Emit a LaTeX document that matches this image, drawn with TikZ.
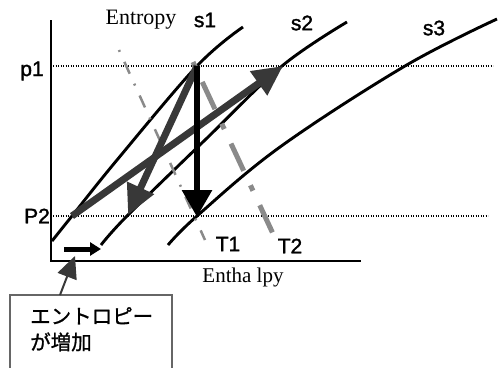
\documentclass[tikz,border=0pt]{standalone}
\usepackage{fontspec}
\setmainfont{Liberation Serif}
\newfontfamily\lsans[FakeBold=1.5]{Liberation Sans}
\newfontfamily\jp[FakeBold=1]{Noto Sans CJK JP}
\usetikzlibrary{arrows.meta}
\definecolor{dgray}{HTML}{383838}
\definecolor{mgray}{HTML}{8A8A8A}
\definecolor{bgray}{HTML}{666666}
\tikzset{
  axis/.style={line width=2pt, black},
  curve/.style={line width=2.9pt, black},
  dotline/.style={line width=1.3pt, black, dash pattern=on 1.3pt off 1.2pt},
  cyc/.style={line width=7pt, dgray, -{Triangle[length=30pt,width=28pt]}},
  down/.style={line width=6pt, black, -{Triangle[length=27pt,width=29pt]}},
  tone/.style={line width=2.5pt, mgray, dash pattern=on 2pt off 11pt on 13pt off 11pt},
  ttwo/.style={line width=5pt, mgray, dash pattern=on 6pt off 16pt on 30pt off 16pt},
  lbl/.style={font=\lsans\fontsize{21}{23}\selectfont, inner sep=0pt},
  serif/.style={font=\fontsize{22}{24}\selectfont, inner sep=0pt},
}
\begin{document}
\begin{tikzpicture}[x=1pt,y=-1pt]
\useasboundingbox (0,0) rectangle (498,367);
% axes
\coordinate (axtop) at (51,20);
\coordinate (axorig) at (51,261);
\coordinate (axright) at (361,261);
\draw[axis] (axtop) -- (axorig) -- (axright);
% pressure lines
\coordinate (p1l) at (53,66); \coordinate (p1r) at (493,66);
\coordinate (p2l) at (53,216); \coordinate (p2r) at (488,216);
\draw[dotline] (p1l) -- (p1r);
\draw[dotline] (p2l) -- (p2r);
% curves
\draw[curve] plot[smooth, tension=0.6] coordinates {(52,241) (72,216) (117,160) (197,66) (243,27)};
\draw[curve] plot[smooth, tension=0.6] coordinates {(101,245) (127,216) (205,140) (282,66) (347,22)};
\draw[curve] plot[smooth, tension=0.6] coordinates {(168,245) (197,216) (280,147) (405,66) (497,19)};
% temperature lines
\coordinate (t1a) at (119,50); \coordinate (t1b) at (205,240);
\coordinate (t2a) at (193,62); \coordinate (t2b) at (275,238);
\draw[tone] (t1a) -- (t1b);
\draw[ttwo] (t2a) -- (t2b);
% cycle points
\coordinate (A) at (72,216);
\coordinate (B) at (283,66);
\coordinate (C) at (197,66);
\coordinate (D) at (128,215);
\coordinate (E) at (197,217);
\draw[cyc] (A) -- (B);
\draw[cyc] (C) -- (D);
\draw[down] (C) -- (E);
% small arrow
\coordinate (F1) at (64,249); \coordinate (F2) at (101,249);
\draw[line width=5pt, black, -{Triangle[length=11pt,width=13pt]}] (F1) -- (F2);
% labels
\node[serif] (entropy) at (141,20) {Entropy};
\node[lbl] (s1) at (205,20) {s1};
\node[lbl] (s2) at (302,23) {s2};
\node[lbl] (s3) at (434,28) {s3};
\node[lbl] (p1) at (32,71) {p1};
\node[lbl] (P2) at (37,216) {P2};
\node[lbl] (T1) at (228,244) {T1};
\node[lbl] (T2) at (290,246) {T2};
\node[serif, font=\fontsize{21}{23}\selectfont] (enth) at (243,277) {Entha lpy};
% callout
\draw[line width=2pt, bgray] (10,372) -- (10,295) -- (172,295) -- (172,372);
\node[font=\jp\fontsize{20.5}{26}\selectfont, align=left, anchor=north west, inner sep=0pt] (jp) at (30,307) {エントロピー\\が増加};
\coordinate (co1) at (60,295); \coordinate (co2) at (75,256);
\draw[line width=2pt, dgray, -{Triangle[length=22pt,width=20pt]}] (co1) -- (co2);
\end{tikzpicture}
\end{document}
